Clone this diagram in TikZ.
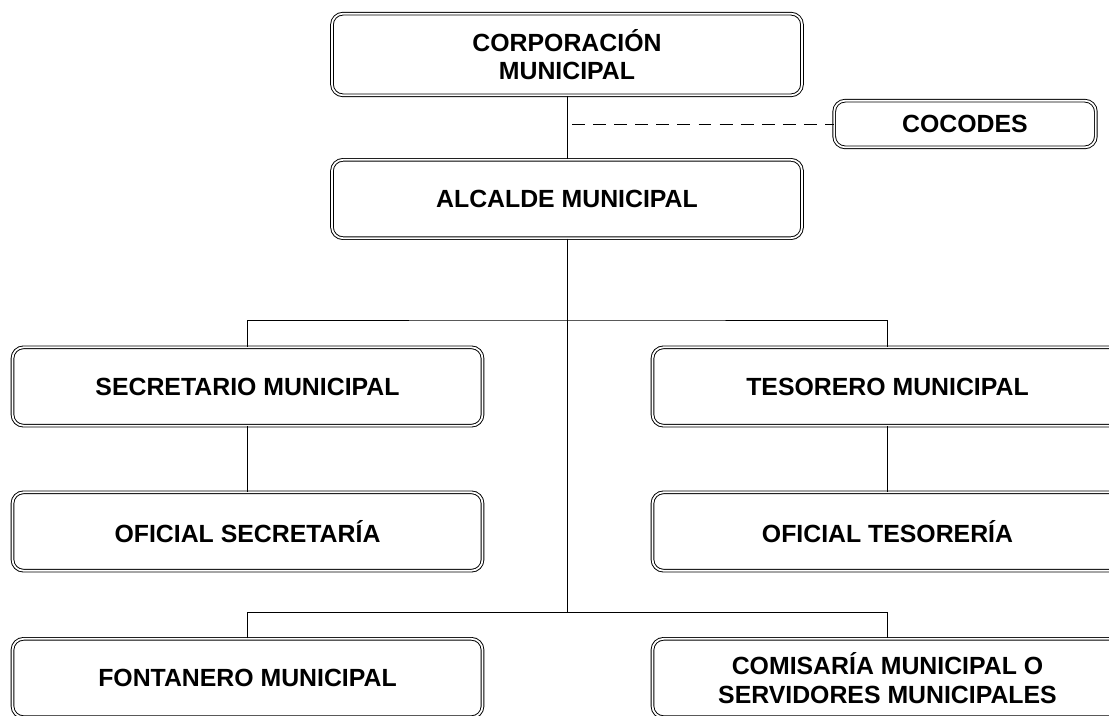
\documentclass[tikz,border=0pt]{standalone}
\usepackage{fontspec}
\setmainfont{Liberation Sans}
\usetikzlibrary{positioning}

\begin{document}
\begin{tikzpicture}[x=.03cm,y=-.03cm,
  puesto/.style={draw,double,double distance=1.5pt,line width=.8pt,rounded corners=.33cm,fill=white,
    minimum width=14.1cm,minimum height=2.35cm,align=center,inner sep=0pt,
    font=\fontsize{21.2}{24.5}\selectfont\bfseries},
  linea/.style={line width=.8pt}]
\useasboundingbox (0,0) rectangle (1109,715);
\clip (0,0) rectangle (1109,715);
\node[puesto,minimum height=2.45cm] (corp) at (567,54.5){CORPORACIÓN\\MUNICIPAL};
\node[puesto,minimum width=7.85cm,minimum height=1.4cm] (cocodes) at (965,124){COCODES};
\node[puesto] (alc) at (567,199){ALCALDE MUNICIPAL};
\node[puesto] (sec) at (247.5,386.5){SECRETARIO MUNICIPAL};
\node[puesto] (ofsec) at (247.5,531.5){OFICIAL SECRETARÍA};
\node[puesto] (tes) at (887.5,386.5){TESORERO MUNICIPAL};
\node[puesto] (oftes) at (887.5,531.5){OFICIAL TESORERÍA};
\node[puesto] (fon) at (247.5,678){FONTANERO MUNICIPAL};
\node[puesto] (com) at (887.5,678){COMISARÍA MUNICIPAL O\\SERVIDORES MUNICIPALES};
\coordinate (d) at (572,124);
\coordinate (j1) at (567,320);
\coordinate (j2) at (567,612);
% lineas de mando
\draw[linea] (corp) -- (alc);
\draw[linea,dash pattern=on 11pt off 7pt] (d) -- (cocodes);
\draw[linea] (alc) -- (j2);
\draw[linea] (sec.north) |- (j1) -| (tes.north);
\draw[linea] (sec) -- (ofsec);
\draw[linea] (tes) -- (oftes);
\draw[linea] (fon.north) |- (j2) -| (com.north);
\end{tikzpicture}
\end{document}
